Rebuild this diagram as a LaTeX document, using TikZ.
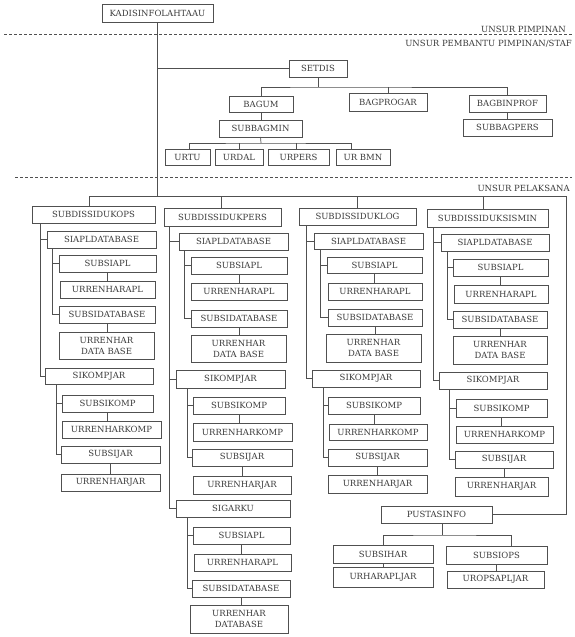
\documentclass[tikz,border=0pt]{standalone}
\usepackage{fontspec}
\setmainfont{DejaVu Serif}
\definecolor{ink}{RGB}{60,60,60}
\definecolor{ln}{RGB}{80,80,80}
\tikzset{
  bx/.style={draw=ln, line width=0.7pt, text=ink, font=\fontsize{8.5}{11}\selectfont,
    inner sep=0pt, outer sep=0pt, align=center},
  conn/.style={draw=ln, line width=0.7pt},
  sep/.style={draw=ln, line width=0.7pt, dash pattern=on 3pt off 2pt},
  lbl/.style={text=ink, font=\fontsize{8.5}{11}\selectfont, inner sep=0pt, anchor=east}
}
\newcommand\bx[6]{\node[bx, minimum width={#4pt-#2pt}, minimum height={#5pt-#3pt}] (#1) at ({(#2+#4)/2},{(#3+#5)/2}) {#6};}
\begin{document}
\begin{tikzpicture}[x=1pt,y=-1pt]
\fill[white] (0,0) rectangle (575,637);
\useasboundingbox (0,0) rectangle (575,637);

% separators and labels
\draw[sep] (4,34) -- (572,34);
\draw[sep] (15,177) -- (572,177);
\node[lbl] (l1) at (566,29) {UNSUR PIMPINAN};
\node[lbl] (l2) at (572,44) {UNSUR PEMBANTU PIMPINAN/STAF};
\node[lbl] (l3) at (570,188) {UNSUR PELAKSANA};

% top part
\bx{kadis}{102}{4}{213}{22}{KADISINFOLAHTAAU}
\bx{setdis}{289}{60}{347}{77}{SETDIS}
\bx{bagum}{229}{96}{293}{112}{BAGUM}
\bx{bagprog}{349}{93}{427}{111}{BAGPROGAR}
\bx{bagbin}{469}{95}{546}{112}{BAGBINPROF}
\bx{subbagpers}{463}{119}{552}{136}{SUBBAGPERS}
\bx{subbagmin}{219}{120}{302}{137}{SUBBAGMIN}
\bx{urtu}{165}{149}{210}{165}{URTU}
\bx{urdal}{215}{149}{263}{165}{URDAL}
\bx{urpers}{268}{149}{329}{165}{URPERS}
\bx{urbmn}{336}{149}{390}{165}{UR BMN}

% column 1
\bx{a0}{32}{206}{155}{223}{SUBDISSIDUKOPS}
\bx{a1}{47}{231}{156}{248}{SIAPLDATABASE}
\bx{a11}{59}{255}{156}{272}{SUBSIAPL}
\bx{a12}{60}{281}{155}{298}{URRENHARAPL}
\bx{a13}{59}{306}{155}{323}{SUBSIDATABASE}
\bx{a14}{59}{332}{154}{359}{URRENHAR\\DATA BASE}
\bx{a2}{45}{368}{153}{384}{SIKOMPJAR}
\bx{a21}{62}{395}{153}{412}{SUBSIKOMP}
\bx{a22}{62}{421}{161}{438}{URRENHARKOMP}
\bx{a23}{61}{446}{160}{463}{SUBSIJAR}
\bx{a24}{61}{474}{160}{491}{URRENHARJAR}

% column 2
\bx{b0}{164}{208}{281}{226}{SUBDISSIDUKPERS}
\bx{b1}{179}{233}{288}{250}{SIAPLDATABASE}
\bx{b11}{191}{257}{287}{274}{SUBSIAPL}
\bx{b12}{191}{283}{287}{300}{URRENHARAPL}
\bx{b13}{191}{310}{287}{327}{SUBSIDATABASE}
\bx{b14}{191}{335}{286}{362}{URRENHAR\\DATA BASE}
\bx{b2}{176}{370}{285}{388}{SIKOMPJAR}
\bx{b21}{193}{397}{285}{414}{SUBSIKOMP}
\bx{b22}{193}{423}{292}{441}{URRENHARKOMP}
\bx{b23}{192}{449}{292}{466}{SUBSIJAR}
\bx{b24}{193}{476}{291}{494}{URRENHARJAR}
\bx{b3}{176}{500}{290}{517}{SIGARKU}
\bx{b31}{193}{527}{290}{544}{SUBSIAPL}
\bx{b32}{194}{554}{291}{571}{URRENHARAPL}
\bx{b33}{192}{580}{290}{597}{SUBSIDATABASE}
\bx{b34}{190}{605}{288}{633}{URRENHAR\\DATABASE}

% column 3
\bx{c0}{299}{208}{416}{225}{SUBDISSIDUKLOG}
\bx{c1}{314}{233}{423}{249}{SIAPLDATABASE}
\bx{c11}{327}{257}{422}{273}{SUBSIAPL}
\bx{c12}{328}{283}{422}{300}{URRENHARAPL}
\bx{c13}{328}{309}{422}{326}{SUBSIDATABASE}
\bx{c14}{326}{334}{421}{362}{URRENHAR\\DATA BASE}
\bx{c2}{312}{370}{420}{387}{SIKOMPJAR}
\bx{c21}{328}{397}{420}{414}{SUBSIKOMP}
\bx{c22}{329}{424}{427}{440}{URRENHARKOMP}
\bx{c23}{328}{449}{427}{466}{SUBSIJAR}
\bx{c24}{328}{475}{427}{493}{URRENHARJAR}

% column 4
\bx{d0}{427}{209}{548}{227}{SUBDISSIDUKSISMIN}
\bx{d1}{441}{234}{549}{251}{SIAPLDATABASE}
\bx{d11}{453}{259}{548}{276}{SUBSIAPL}
\bx{d12}{454}{285}{548}{303}{URRENHARAPL}
\bx{d13}{453}{311}{547}{328}{SUBSIDATABASE}
\bx{d14}{453}{336}{547}{364}{URRENHAR\\DATA BASE}
\bx{d2}{439}{372}{547}{389}{SIKOMPJAR}
\bx{d21}{456}{399}{547}{417}{SUBSIKOMP}
\bx{d22}{456}{426}{553}{443}{URRENHARKOMP}
\bx{d23}{455}{451}{553}{468}{SUBSIJAR}
\bx{d24}{455}{477}{548}{496}{URRENHARJAR}

% pustasinfo
\bx{p0}{381}{506}{492}{523}{PUSTASINFO}
\bx{p1}{333}{545}{433}{563}{SUBSIHAR}
\bx{p2}{446}{546}{547}{564}{SUBSIOPS}
\bx{p11}{333}{567}{433}{587}{URHARAPLJAR}
\bx{p21}{447}{571}{544}{588}{UROPSAPLJAR}

% ---- connectors ----
\coordinate (tb) at (158,196);
\coordinate (rt) at (566,196);
\coordinate (sb) at (318,87);
\coordinate (mb) at (261,143);
\coordinate (pb) at (442,535);

\draw[conn] (kadis.south) -- (kadis.south |- tb);
\draw[conn] (kadis.south |- setdis.west) -- (setdis.west);
\draw[conn] (setdis.south) -- (sb);
\draw[conn] (bagum.north) |- (sb) -| (bagbin.north);
\draw[conn] (bagprog.north) -- (bagprog.north |- sb);
\draw[conn] (bagbin.south) -- (bagbin.south |- subbagpers.north);
\draw[conn] (bagum.south) -- (bagum.south |- subbagmin.north);
\draw[conn] (subbagmin.south) -- (mb);
\draw[conn] ([xshift=1.5pt]urtu.north) |- (mb) -| ([xshift=-12pt]urbmn.north);
\draw[conn] (urdal.north) -- (urdal.north |- mb);
\draw[conn] ([xshift=-2.5pt]urpers.north) -- ([xshift=-2.5pt]urpers.north |- mb);

% main bus
\draw[conn] ([xshift=-4.5pt]a0.north) |- (rt) |- (p0.east);
\draw[conn] ([xshift=-1.5pt]b0.north) -- ([xshift=-1.5pt]b0.north |- tb);
\draw[conn] (c0.north) -- (c0.north |- tb);
\draw[conn] ([xshift=-4.5pt]d0.north) -- ([xshift=-4.5pt]d0.north |- tb);

% column 1
\draw[conn] ([xshift=8pt]a0.south west) |- (a1.west);
\draw[conn] ([xshift=8pt]a0.south west) |- (a2.west);
\draw[conn] ([xshift=5pt]a1.south west) |- (a11.west);
\draw[conn] ([xshift=5pt]a1.south west) |- (a13.west);
\draw[conn] (a11.south) -- (a11.south |- a12.north);
\draw[conn] (a13.south) -- (a13.south |- a14.north);
\draw[conn] ([xshift=11pt]a2.south west) |- (a21.west);
\draw[conn] ([xshift=11pt]a2.south west) |- (a23.west);
\draw[conn] (a21.south) -- (a21.south |- a22.north);
\draw[conn] (a23.south) -- (a23.south |- a24.north);

% column 2
\draw[conn] ([xshift=5pt]b0.south west) |- (b1.west);
\draw[conn] ([xshift=5pt]b0.south west) |- (b2.west);
\draw[conn] ([xshift=5pt]b0.south west) |- (b3.west);
\draw[conn] ([xshift=5pt]b1.south west) |- (b11.west);
\draw[conn] ([xshift=5pt]b1.south west) |- (b13.west);
\draw[conn] (b11.south) -- (b11.south |- b12.north);
\draw[conn] (b13.south) -- (b13.south |- b14.north);
\draw[conn] ([xshift=11pt]b2.south west) |- (b21.west);
\draw[conn] ([xshift=11pt]b2.south west) |- (b23.west);
\draw[conn] (b21.south) -- (b21.south |- b22.north);
\draw[conn] (b23.south) -- (b23.south |- b24.north);
\draw[conn] ([xshift=11pt]b3.south west) |- (b31.west);
\draw[conn] ([xshift=11pt]b3.south west) |- (b33.west);
\draw[conn] (b31.south) -- (b31.south |- b32.north);
\draw[conn] (b33.south) -- (b33.south |- b34.north);

% column 3
\draw[conn] ([xshift=7pt]c0.south west) |- (c1.west);
\draw[conn] ([xshift=7pt]c0.south west) |- (c2.west);
\draw[conn] ([xshift=6pt]c1.south west) |- (c11.west);
\draw[conn] ([xshift=6pt]c1.south west) |- (c13.west);
\draw[conn] (c11.south) -- (c11.south |- c12.north);
\draw[conn] (c13.south) -- (c13.south |- c14.north);
\draw[conn] ([xshift=11pt]c2.south west) |- (c21.west);
\draw[conn] ([xshift=11pt]c2.south west) |- (c23.west);
\draw[conn] (c21.south) -- (c21.south |- c22.north);
\draw[conn] (c23.south) -- (c23.south |- c24.north);

% column 4
\draw[conn] ([xshift=6pt]d0.south west) |- (d1.west);
\draw[conn] ([xshift=6pt]d0.south west) |- (d2.west);
\draw[conn] ([xshift=6pt]d1.south west) |- (d11.west);
\draw[conn] ([xshift=6pt]d1.south west) |- (d13.west);
\draw[conn] (d11.south) -- (d11.south |- d12.north);
\draw[conn] (d13.south) -- (d13.south |- d14.north);
\draw[conn] ([xshift=10pt]d2.south west) |- (d21.west);
\draw[conn] ([xshift=10pt]d2.south west) |- (d23.west);
\draw[conn] (d21.south) -- (d21.south |- d22.north);
\draw[conn] (d23.south) -- (d23.south |- d24.north);

% pustasinfo
\draw[conn] ([xshift=5.5pt]p0.south) -- (pb);
\draw[conn] (p1.north) |- (pb) -| ([xshift=14.5pt]p2.north);
\draw[conn] (p1.south) -- (p1.south |- p11.north);
\draw[conn] (p2.south) -- (p2.south |- p21.north);
\end{tikzpicture}
\end{document}
